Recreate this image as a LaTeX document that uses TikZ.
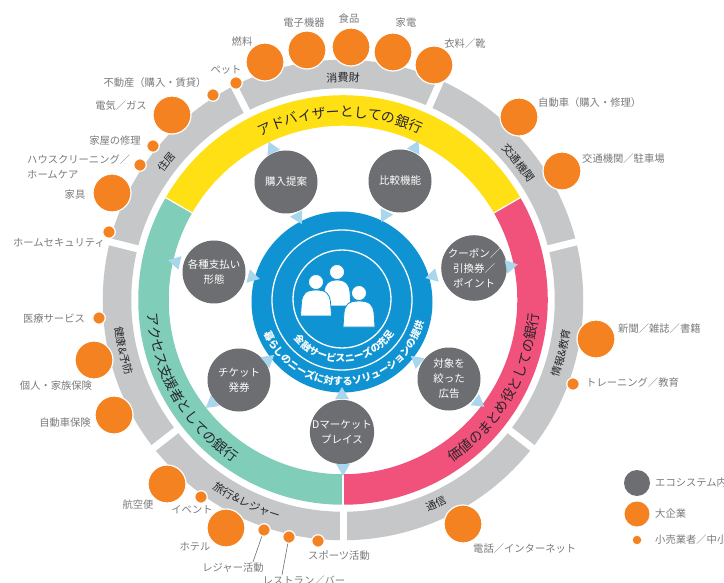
\documentclass[tikz,border=0pt]{standalone}
\usepackage{fontspec}
\setmainfont{Noto Sans CJK JP}
\usetikzlibrary{shapes.geometric,decorations.text}
\definecolor{ringgray}{HTML}{C6C7C9}
\definecolor{darkdisc}{HTML}{6D6E71}
\definecolor{orangeco}{HTML}{F58220}
\definecolor{yellowband}{HTML}{FFE015}
\definecolor{tealband}{HTML}{80CDBA}
\definecolor{pinkband}{HTML}{F0527B}
\definecolor{bluehub}{HTML}{0F93D3}
\definecolor{tipblue}{HTML}{A9D6EC}
\definecolor{labgray}{HTML}{7A7B7D}
\definecolor{ringtext}{HTML}{26262A}
\newcommand{\fsz}[1]{\fontsize{#1}{#1}\selectfont}
% clockwise text along an arc: centre angle, half span, radius, size, colour, text
\newcommand{\cwtext}[6]{\path[decorate,decoration={text along path,text align=center,text={|\fsz{#4}\color{#5}|#6}}] (#1+#2:#3) arc[start angle=#1+#2,end angle=#1-#2,radius=#3];}
\newcommand{\ccwtext}[6]{\path[decorate,decoration={text along path,text align=center,text={|\fsz{#4}\color{#5}|#6}}] (#1-#2:#3) arc[start angle=#1-#2,end angle=#1+#2,radius=#3];}
\newcommand{\ccwbold}[6]{\path[decorate,decoration={text along path,text align=center,text={|\fsz{#4}\bfseries\color{#5}|#6}}] (#1-#2:#3) arc[start angle=#1-#2,end angle=#1+#2,radius=#3];}
\newcommand{\personicon}[3]{% centre x, bottom y, half width
  \fill[white,draw=bluehub,line width=0.8pt] (#1-#3,#2) -- (#1-#3+1,#2-14) .. controls (#1-#3+2,#2-22) and (#1-#3+5,#2-26) .. (#1,#2-26) .. controls (#1+#3-5,#2-26) and (#1+#3-2,#2-22) .. (#1+#3-1,#2-14) -- (#1+#3,#2) -- cycle;
  \fill[white,draw=bluehub,line width=0.8pt] (#1,#2-34) circle[radius=7.5];}
\tikzset{
  bigdot/.style={circle,fill=orangeco,draw=white,line width=1.2pt,minimum size=38pt,inner sep=0pt},
  smalldot/.style={circle,fill=orangeco,draw=white,line width=1.2pt,minimum size=12.5pt,inner sep=0pt},
  legenddot/.style={circle,fill=orangeco,minimum size=8.5pt,inner sep=0pt},
  graydisc/.style={circle,fill=darkdisc,minimum size=63pt,inner sep=0pt,text=white,align=center,font=\fsz{10.5},execute at begin node={\baselineskip=15pt}},
  lab/.style={text=labgray,font=\fsz{10.3},inner sep=0pt},
  labl/.style={lab,anchor=west},
  tip/.style={regular polygon,regular polygon sides=3,fill=tipblue,inner sep=0pt,minimum size=16pt,rotate=#1-90},
  leader/.style={draw=darkdisc,line width=0.6pt},
  band/.style={line width=#1}
}
\begin{document}
\begin{tikzpicture}[x=1pt,y=-1pt]
\useasboundingbox (0,0) rectangle (724,583);
\fill[white] (0,0) rectangle (724,583);

\begin{scope}[shift={(343,300)},x=1pt,y=1pt]
  % outer grey ring
  \draw[band=28.5pt,ringgray] (0,-226) arc[start angle=-90,end angle=270,radius=226];
  \foreach \a in {66,14,-38,-90,218,166,117}
    \draw[white,line width=7pt] (\a:209) -- (\a:243);
  % coloured band
  \draw[band=30.5pt,yellowband] (150:189.5) arc[start angle=150,end angle=30,radius=189.5];
  \draw[band=30.5pt,pinkband] (30:189.5) arc[start angle=30,end angle=-90,radius=189.5];
  \draw[band=30.5pt,tealband] (-90:189.5) arc[start angle=-90,end angle=-210,radius=189.5];
  \draw[white,line width=1.2pt] (150:173) -- (150:206);
  \draw[white,line width=1.2pt] (30:173) -- (30:206);
  \draw[white,line width=2pt] (-90:173) -- (-90:206);
  % band titles
  \cwtext{91}{40}{183}{13.7}{ringtext}{アドバイザーとしての銀行}
  \ccwtext{210}{40}{196}{13.7}{ringtext}{アクセス支援者としての銀行}
  \ccwtext{-30}{40}{196}{13.7}{ringtext}{価値のまとめ役としての銀行}
  % grey ring titles
  \cwtext{90}{20}{218}{11}{ringtext}{消費財}
  \cwtext{38}{20}{219}{11}{ringtext}{交通機関}
  \ccwtext{-13.7}{20}{229}{10.5}{ringtext}{情報{\&}教育}
  \ccwtext{-65.5}{15}{228}{10.5}{ringtext}{通信}
  \ccwtext{244.5}{25}{229}{11}{ringtext}{旅行{\&}レジャー}
  \ccwtext{193}{20}{230}{10.5}{ringtext}{健康{\&}予防}
  \cwtext{142}{15}{220}{10.5}{ringtext}{住居}
\end{scope}

% hub
\node[circle,fill=bluehub,minimum size=181pt,inner sep=0pt] (hub) at (342,302) {};
\draw[white,line width=1.3pt] (342,300) circle[radius=70];
\draw[white,line width=1.3pt] (342,299) circle[radius=49];
\personicon{337}{306}{14}
\personicon{316}{316}{15.5}
\personicon{359}{327}{16}
\begin{scope}[shift={(342,300)},x=1pt,y=1pt]
  \ccwbold{273}{70}{62}{9.8}{white}{金融サービスニーズの充足}
  \ccwbold{274}{85}{85}{10}{white}{暮らしのニーズに対するソリューションの提供}
\end{scope}

% service discs
\node[graydisc] (buy) at (286,182) {購入提案};
\node[graydisc] (compare) at (400,181) {比較機能};
\node[graydisc] (coupon) at (474,268) {クーポン／\\引換券／\\ポイント};
\node[graydisc] (target) at (449,379) {対象を\\絞った\\広告};
\node[graydisc] (dmarket) at (342,432) {Dマーケット\\プレイス};
\node[graydisc] (ticket) at (239,380) {チケット\\発券};
\node[graydisc] (pay) at (214,272) {各種支払い\\形態};

% arrowheads towards hub
\node[tip=-62] (i1) at (298,217) {};
\node[tip=-117] (i2) at (385,215) {};
\node[tip=195] (i3) at (433,276) {};
\node[tip=141] (i4) at (417,361) {};
\node[tip=90] (i5) at (342,395) {};
\node[tip=39] (i6) at (268,360) {};
\node[tip=-14] (i7) at (252,277) {};
% arrowheads towards band
\node[tip=115] (o1) at (272,149) {};
\node[tip=64] (o2) at (415,148) {};
\node[tip=11] (o3) at (510,266) {};
\node[tip=-37] (o4) at (478,402) {};
\node[tip=-90] (o5) at (343,468) {};
\node[tip=218] (o6) at (212,403) {};
\node[tip=167] (o7) at (176,262) {};

% consumer goods
\node[bigdot] (fuel) at (265,62) {};
\node[bigdot] (elec) at (307,50) {};
\node[bigdot] (food) at (351,47) {};
\node[bigdot] (appl) at (393,52) {};
\node[bigdot] (cloth) at (434,65) {};
\node[smalldot] (pet) at (236,83) {};
\node[lab] (tfuel) at (242,42) {燃料};
\node[lab] (telec) at (304,23) {電子機器};
\node[lab] (tfood) at (349,19) {食品};
\node[lab] (tappl) at (406,23) {家電};
\node[lab] (tcloth) at (465,44) {衣料／靴};
\node[lab] (tpet) at (226,70) {ペット};
% housing
\node[smalldot] (estate) at (213,95) {};
\node[bigdot] (power) at (172,115) {};
\node[smalldot] (repair) at (153,146) {};
\node[smalldot] (clean) at (140,165) {};
\node[bigdot] (furn) at (112,193) {};
\node[smalldot] (secur) at (109,232) {};
\node[lab] (testate) at (155,83) {不動産（購入・賃貸）};
\node[lab] (tpower) at (121,106) {電気／ガス};
\node[lab] (trepair) at (115,141) {家屋の修理};
\node[labl] (tclean) at (27,160) {ハウスクリーニング／};
\node[labl] (tclean2) at (27,175) {ホームケア};
\node[lab] (tfurn) at (75,195) {家具};
\node[lab] (tsecur) at (59,243) {ホームセキュリティ};
% transport
\node[bigdot] (car) at (519,117) {};
\node[bigdot] (traffic) at (562,171) {};
\node[labl] (tcar) at (538,103) {自動車（購入・修理）};
\node[labl] (ttraffic) at (582,159) {交通機関／駐車場};
% information
\node[bigdot] (news) at (596,339) {};
\node[smalldot] (train) at (573,384) {};
\node[labl] (tnews) at (618,329) {新聞／雑誌／書籍};
\node[labl] (ttrain) at (586,383) {トレーニング／教育};
% telecoms
\node[bigdot] (phone) at (463,524) {};
\node[labl] (tphone) at (473,549) {電話／インターネット};
% health
\node[smalldot] (med) at (99,318) {};
\node[bigdot] (life) at (94,360) {};
\node[bigdot] (auto) at (114,415) {};
\node[lab] (tmed) at (54,319) {医療サービス};
\node[lab] (tlife) at (56,386) {個人・家族保険};
\node[lab] (tauto) at (65,423) {自動車保険};
% travel
\node[bigdot] (air) at (167,484) {};
\node[smalldot] (event) at (201,497) {};
\node[bigdot] (hotel) at (226,528) {};
\node[smalldot] (leisure) at (264,530) {};
\node[smalldot] (rest) at (289,537) {};
\node[smalldot] (sport) at (318,541) {};
\node[lab] (tair) at (138,505) {航空便};
\node[lab] (tevent) at (192,510) {イベント};
\node[lab] (thotel) at (195,547) {ホテル};
\node[lab] (tleisure) at (233,568) {レジャー活動};
\node[lab] (trest) at (304,581) {レストラン／バー};
\node[lab] (tsport) at (339,556) {スポーツ活動};
\coordinate (eleisure) at (253,562);
\coordinate (erest) at (282,575);
\draw[leader] (leisure) -- (eleisure);
\draw[leader] (rest) -- (erest);

% legend
\node[circle,fill=darkdisc,minimum size=26pt,inner sep=0pt] (lgray) at (637,483) {};
\node[circle,fill=orangeco,minimum size=25pt,inner sep=0pt] (lbig) at (637,514) {};
\node[legenddot] (lsmall) at (637,540) {};
\node[labl] (tlgray) at (655,483) {エコシステム内};
\node[labl] (tlbig) at (655,514) {大企業};
\node[labl] (tlsmall) at (655,540) {小売業者／中小};
\end{tikzpicture}
\end{document}
